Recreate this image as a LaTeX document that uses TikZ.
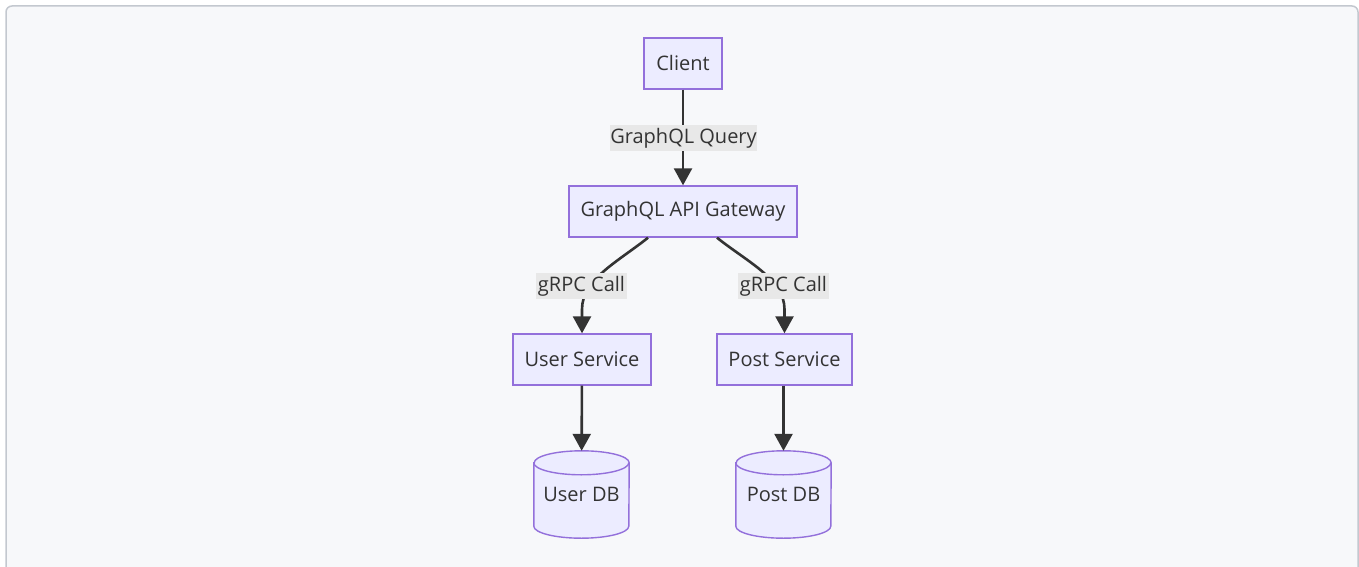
\documentclass[tikz,border=0pt]{standalone}
\usepackage{fontspec}
\setmainfont{Open Sans}
\usetikzlibrary{arrows.meta}
\definecolor{nodefill}{HTML}{ECECFF}
\definecolor{nodeline}{HTML}{9370DB}
\definecolor{edgecol}{HTML}{333333}
\definecolor{labelbg}{HTML}{E8E8E8}
\definecolor{panel}{HTML}{F7F8FA}
\definecolor{panelline}{HTML}{C3C8CF}
\definecolor{txt}{HTML}{333333}
\begin{document}
\begin{tikzpicture}[x=1pt,y=1pt,
  font=\fontsize{20}{24}\selectfont,
  proc/.style={draw=nodeline,fill=nodefill,line width=1.4pt,text=txt,
    minimum height=51pt,inner sep=0pt},
  dbslot/.style={minimum width=95pt,minimum height=87pt,inner sep=0pt,text=txt},
  dbshape/.style={draw=nodeline,fill=nodefill,line width=1.4pt},
  elabel/.style={fill=labelbg,text=txt,minimum height=26pt,inner sep=0pt},
  edge/.style={draw=edgecol,line width=2.6pt,
    -{Triangle[length=17pt,width=18pt]}}]
  \useasboundingbox (0,0) rectangle (1359,-567);
  \clip (0,0) rectangle (1359,-567);
  % panel behind the diagram
  \draw[fill=panel,draw=panelline,line width=1.5pt,rounded corners=6pt]
    (6,-6) rectangle (1358,-600);

  % services and gateway
  \node[proc,minimum width=78pt]  (client) at (683,-63.5)   {Client};
  \node[proc,minimum width=228pt] (gw)     at (683,-211.5)  {GraphQL API Gateway};
  \node[proc,minimum width=138pt] (us)     at (582,-359.5)  {User Service};
  \node[proc,minimum width=135pt] (ps)     at (784.5,-359.5){Post Service};

  % databases: cylinders drawn around empty slots
  \node[dbslot] (udb) at (581.5,-494.5) {};
  \node[dbslot] (pdb) at (783.5,-494.5) {};
  \foreach \db in {udb,pdb}{
    \draw[dbshape] ([yshift=-12pt]\db.north west) -- ([yshift=12pt]\db.south west)
      arc[start angle=180,end angle=360,x radius=47.5pt,y radius=12pt]
      -- ([yshift=-12pt]\db.north east)
      arc[start angle=0,end angle=180,x radius=47.5pt,y radius=12pt] -- cycle;
    \draw[dbshape,fill=none] ([yshift=-12pt]\db.north west)
      arc[start angle=180,end angle=360,x radius=47.5pt,y radius=12pt];
  }
  \node[text=txt] at (udb) {User DB};
  \node[text=txt] at (pdb) {Post DB};

  % connectors
  \draw[edge] (client) -- (gw);
  \draw[edge] ([xshift=-35pt]gw.south) .. controls +(-30,-24) and +(0,30) .. ([yshift=24pt]us.north) -- (us.north);
  \draw[edge] ([xshift=34pt]gw.south) .. controls +(30,-24) and +(0,30) .. ([yshift=24pt]ps.north) -- (ps.north);
  \draw[edge] (us) -- (udb);
  \draw[edge] (ps.south -| pdb.north) -- (pdb);

  % edge labels
  \node[elabel,minimum width=145pt] (lq)  at (683.5,-138) {GraphQL Query};
  \node[elabel,minimum width=91pt]  (lg1) at (581.5,-286) {gRPC Call};
  \node[elabel,minimum width=91pt]  (lg2) at (783.5,-286) {gRPC Call};
\end{tikzpicture}
\end{document}
